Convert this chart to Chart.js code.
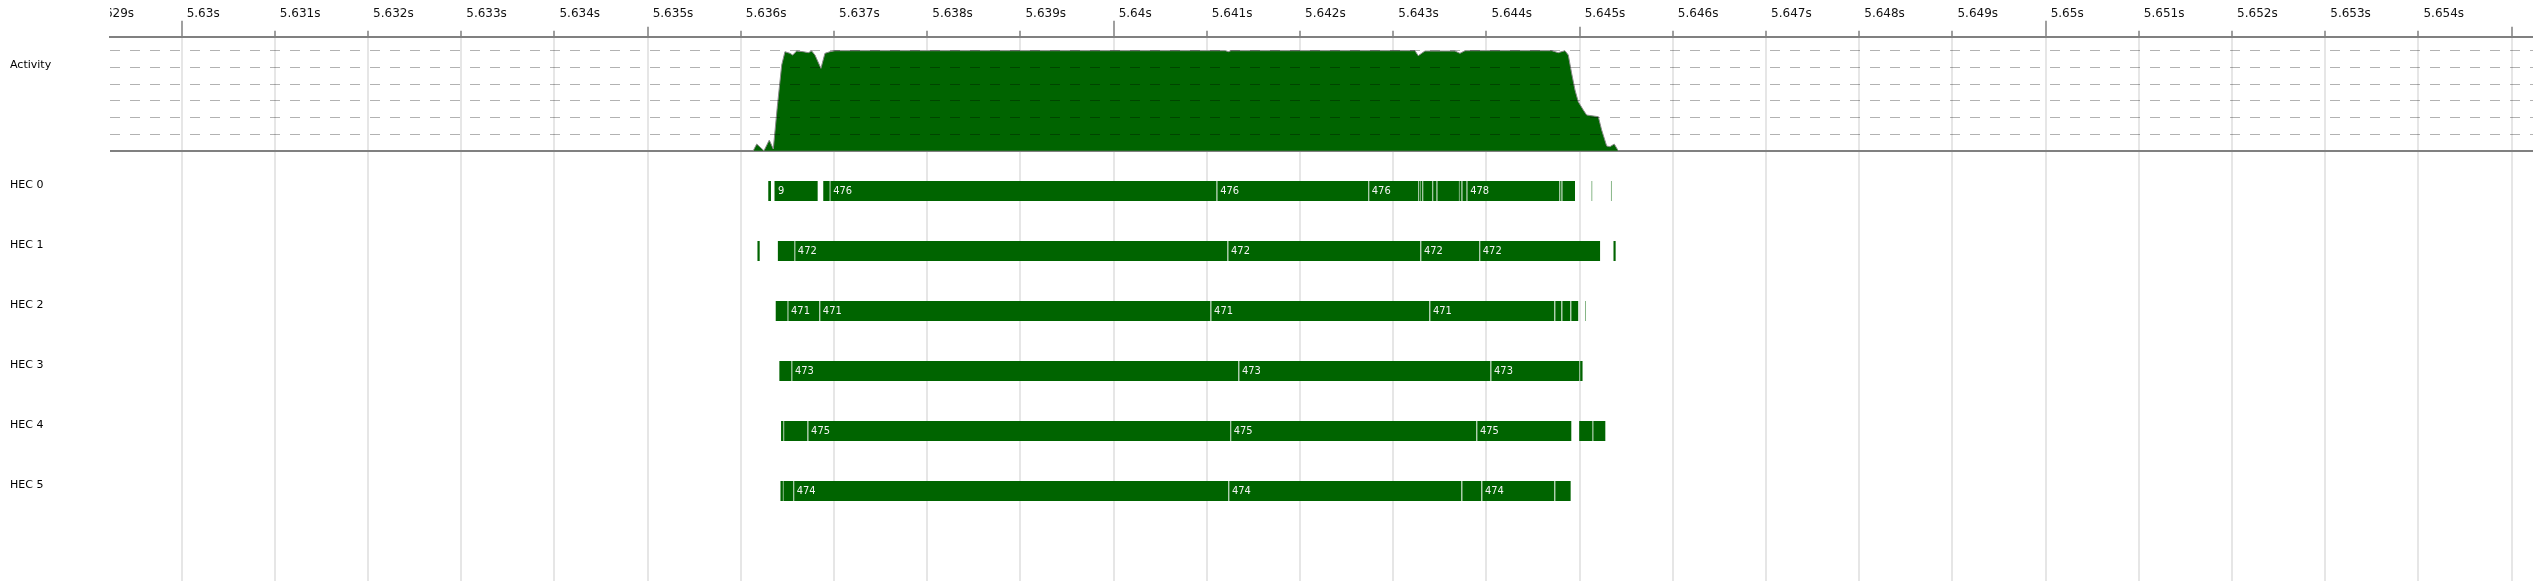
<!DOCTYPE html>
<html>
<head>
<meta charset="utf-8">
<title>HEC activity timeline</title>
<script src="https://cdn.jsdelivr.net/npm/chart.js@4.4.1/dist/chart.umd.min.js"></script>
<style>
    html, body { margin: 0; padding: 0; background: #fff; }
    #timeline { display: block; }
</style>
</head>
<body>
<canvas id="timeline" width="2533" height="581"></canvas>
<script>
// --- Data (all times in ms) ---
const TICKS_MS = [5629, 5630, 5631, 5632, 5633, 5634, 5635, 5636, 5637, 5638, 5639,
    5640, 5641, 5642, 5643, 5644, 5645, 5646, 5647, 5648, 5649, 5650, 5651, 5652,
    5653, 5654, 5655];
const ROW_NAMES = ['HEC 0', 'HEC 1', 'HEC 2', 'HEC 3', 'HEC 4', 'HEC 5'];
const ACTIVITY_TITLE = 'Activity';

// busy HEC count over time
const ACTIVITY_MS = [5636.133, 5636.170, 5636.248, 5636.305, 5636.348, 5636.391, 5636.438,
    5636.473, 5636.527, 5636.556, 5636.599, 5636.670, 5636.723, 5636.760, 5636.795,
    5636.859, 5636.902, 5636.956, 5637.010, 5641.200, 5641.230, 5641.260, 5643.233,
    5643.268, 5643.340, 5643.662, 5643.716, 5643.770, 5644.700, 5644.770, 5644.842,
    5644.878, 5644.914, 5644.950, 5644.985, 5645.039, 5645.075, 5645.200, 5645.236,
    5645.290, 5645.325, 5645.371, 5645.414];
const ACTIVITY_BUSY = [0, 0.4, 0, 0.64, 0.1, 2.64, 5.14,
    5.94, 5.84, 5.74, 5.98, 5.94, 5.88, 5.98, 5.74,
    4.94, 5.84, 5.94, 6, 6, 5.94, 6, 6,
    5.7, 5.98, 5.98, 5.84, 6, 6, 5.88, 6,
    5.74, 4.64, 3.64, 2.94, 2.44, 2.14, 2.04, 1.24,
    0.28, 0.24, 0.4, 0];

// [start, end, label] per HEC
const HEC0 = [
    [5636.294, 5636.323, ''], [5636.361, 5636.824, '9'], [5636.884, 5636.953, ''],
    [5636.953, 5641.105, '476'], [5641.105, 5642.732, '476'], [5642.732, 5643.268, '476'],
    [5643.268, 5643.287, ''], [5643.287, 5643.311, ''], [5643.311, 5643.418, ''],
    [5643.418, 5643.466, ''], [5643.466, 5643.705, ''], [5643.705, 5643.734, ''],
    [5643.734, 5643.788, ''], [5643.788, 5644.781, '478'], [5644.781, 5644.807, ''],
    [5644.807, 5644.950, ''], [5645.129, 5645.134, ''], [5645.336, 5645.341, '']
];
const HEC1 = [
    [5636.178, 5636.202, ''], [5636.397, 5636.574, ''], [5636.574, 5641.222, '472'],
    [5641.222, 5643.291, '472'], [5643.291, 5643.923, '472'], [5643.923, 5645.221, '472'],
    [5645.363, 5645.386, '']
];
const HEC2 = [
    [5636.374, 5636.501, ''], [5636.501, 5636.842, '471'], [5636.842, 5641.040, '471'],
    [5641.040, 5643.388, '471'], [5643.388, 5644.729, '471'], [5644.729, 5644.805, ''],
    [5644.805, 5644.901, ''], [5644.901, 5644.987, ''], [5645.062, 5645.067, '']
];
const HEC3 = [
    [5636.413, 5636.542, ''], [5636.542, 5641.339, '473'], [5641.339, 5644.044, '473'],
    [5644.044, 5644.995, '473'], [5644.995, 5645.033, '']
];
const HEC4 = [
    [5636.431, 5636.454, ''], [5636.454, 5636.716, ''], [5636.716, 5641.251, '475'],
    [5641.251, 5643.892, '475'], [5643.892, 5644.913, '475'], [5644.995, 5645.137, ''],
    [5645.137, 5645.278, '']
];
const HEC5 = [
    [5636.425, 5636.451, ''], [5636.451, 5636.562, ''], [5636.562, 5641.231, '474'],
    [5641.231, 5643.732, '474'], [5643.732, 5643.946, ''], [5643.946, 5644.729, '474'],
    [5644.729, 5644.905, '']
];
const HEC_ROWS = [HEC0, HEC1, HEC2, HEC3, HEC4, HEC5];

// --- View / layout settings ---
const VIEW_MIN = 5629.231;
const VIEW_MAX = 5655.229;
const ACT_RANGE = { min: -25.82, max: 6.84 };   // busy count axis, 0..6 sits in the top band
const ROW_RANGE = { min: -2.572, max: 6.5 };    // one unit per HEC row
const ACTIVITY_ROW = -2;                        // header position in row units
const GREEN = '#006400';

// flatten segments, mark ones that continue the previous segment
const segments = [];
HEC_ROWS.forEach((row, r) => {
    row.forEach(([start, end, label], i) => {
        const joined = i > 0 && Math.abs(start - row[i - 1][1]) < 0.002;
        segments.push({ row: r, start, end, label, joined });
    });
});

// --- Plugins ---
const segmentLabels = {
    id: 'segmentLabels',
    afterDatasetsDraw(chart) {
        const meta = chart.getDatasetMeta(1);
        const ctx = chart.ctx;
        ctx.save();
        ctx.font = '11px "DejaVu Sans Condensed", "DejaVu Sans", sans-serif';
        ctx.fillStyle = '#f4f4f4';
        ctx.textBaseline = 'middle';
        ctx.textAlign = 'left';
        meta.data.forEach((bar, i) => {
            const text = segments[i].label;
            if (!text) return;
            ctx.fillText(text, Math.min(bar.x, bar.base) + 3.5, bar.y);
        });
        ctx.restore();
    }
};

// time labels that start left of the plot get cut at the plot edge
const trimAxisOverflow = {
    id: 'trimAxisOverflow',
    afterDraw(chart) {
        const area = chart.chartArea;
        chart.ctx.clearRect(0, 0, area.left, area.top - 2);
    }
};

// side axes: fixed width, no label overhang padding
const fixSideAxis = w => s => {
    s.width = w;
    s.paddingTop = 0;
    s.paddingBottom = 0;
};

const inView = v => v >= VIEW_MIN && v <= VIEW_MAX;

function tickDash(v) {
    if (v % 10 === 0) return [];
    if (v % 5 === 0) return [0, 6, 10, 0];
    return [0, 10, 6, 0];
}

Chart.defaults.font.family = '"DejaVu Sans", sans-serif';
Chart.defaults.font.size = 11;
Chart.defaults.color = '#111';

new Chart(document.getElementById('timeline'), {
    type: 'bar',
    data: {
        datasets: [
            {
                type: 'line',
                label: ACTIVITY_TITLE,
                xAxisID: 'x',
                yAxisID: 'yAct',
                data: ACTIVITY_MS.map((t, i) => ({ x: t, y: ACTIVITY_BUSY[i] })),
                fill: 'origin',
                backgroundColor: GREEN,
                borderColor: '#8a8a8a',
                borderWidth: 1,
                pointRadius: 0,
                tension: 0
            },
            {
                type: 'bar',
                label: 'HEC',
                indexAxis: 'y',
                xAxisID: 'x',
                yAxisID: 'yHec',
                data: segments.map(s => ({ x: [s.start, s.end], y: s.row })),
                backgroundColor: GREEN,
                borderColor: '#6aa86a',
                borderWidth: ctx => segments[ctx.dataIndex] && segments[ctx.dataIndex].joined
                    ? { left: 1, top: 0, right: 0, bottom: 0 } : 0,
                borderSkipped: false,
                inflateAmount: 0,
                barThickness: 20,
                grouped: false
            }
        ]
    },
    options: {
        responsive: false,
        animation: false,
        events: [],
        layout: { padding: { top: 6.3, left: 10, right: 0, bottom: 0 } },
        plugins: {
            legend: { display: false },
            tooltip: { enabled: false }
        },
        scales: {
            x: {
                type: 'linear',
                position: 'top',
                offset: false,
                min: VIEW_MIN,
                max: VIEW_MAX,
                afterBuildTicks: s => { s.ticks = TICKS_MS.map(v => ({ value: v })); },
                afterFit: s => { s.paddingLeft = 0; s.paddingRight = 0; },
                ticks: {
                    autoSkip: false,
                    maxRotation: 0,
                    minRotation: 0,
                    align: 'start',
                    labelOffset: 5,
                    padding: 0,
                    color: '#111',
                    font: { size: 12 },
                    callback: v => (v > 5654.5 ? '' : (v / 1000) + 's')
                },
                grid: {
                    offset: false,
                    color: c => (c.tick && inView(c.tick.value) ? '#e6e6e6' : 'rgba(0,0,0,0)'),
                    lineWidth: 2,
                    tickLength: 16,
                    tickWidth: 1.5,
                    tickColor: c => (c.tick && inView(c.tick.value) ? '#808080' : 'rgba(0,0,0,0)'),
                    tickBorderDash: c => (c.tick ? tickDash(c.tick.value) : [])
                },
                border: { display: true, color: '#808080', width: 2 }
            },
            yHec: {
                type: 'linear',
                position: 'left',
                offset: false,
                reverse: true,
                min: ROW_RANGE.min,
                max: ROW_RANGE.max,
                afterFit: fixSideAxis(100),
                afterBuildTicks: s => {
                    s.ticks = [ACTIVITY_ROW].concat(ROW_NAMES.map((n, i) => i)).map(v => ({ value: v }));
                },
                ticks: {
                    crossAlign: 'far',
                    labelOffset: -6,
                    padding: 0,
                    color: '#000',
                    font: { size: 11 },
                    callback: v => (v === ACTIVITY_ROW ? ACTIVITY_TITLE : ROW_NAMES[v])
                },
                grid: { display: false, offset: false },
                border: { display: false }
            },
            yAct: {
                type: 'linear',
                position: 'right',
                offset: false,
                min: ACT_RANGE.min,
                max: ACT_RANGE.max,
                afterFit: fixSideAxis(0),
                afterBuildTicks: s => { s.ticks = [1, 2, 3, 4, 5, 6].map(v => ({ value: v })); },
                ticks: { display: false },
                grid: {
                    z: 1,
                    offset: false,
                    drawTicks: false,
                    color: 'rgba(0,0,0,0.3)',
                    lineWidth: 1
                },
                border: { display: false, dash: [10, 10] }
            },
            yBase: {
                type: 'linear',
                position: 'right',
                offset: false,
                min: ACT_RANGE.min,
                max: ACT_RANGE.max,
                afterFit: fixSideAxis(0),
                afterBuildTicks: s => { s.ticks = [{ value: 0 }]; },
                ticks: { display: false },
                grid: { offset: false, drawTicks: false, color: '#808080', lineWidth: 2 },
                border: { display: false }
            }
        }
    },
    plugins: [segmentLabels, trimAxisOverflow]
});
</script>
</body>
</html>
